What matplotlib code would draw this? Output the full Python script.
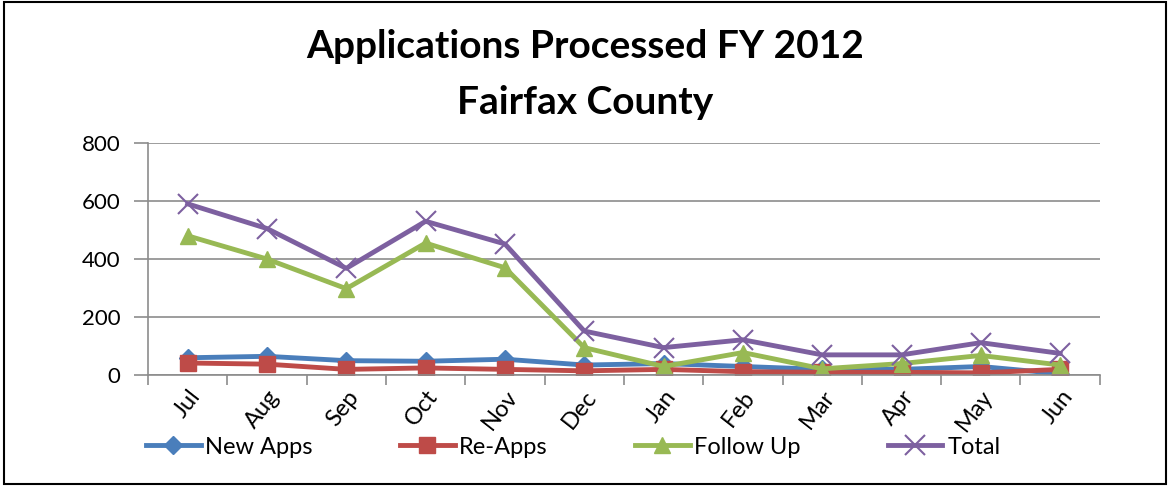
import numpy as np
import matplotlib
matplotlib.use("Agg")
import matplotlib.pyplot as plt
from matplotlib.patches import Rectangle

months = ["Jul", "Aug", "Sep", "Oct", "Nov", "Dec", "Jan", "Feb", "Mar", "Apr", "May", "Jun"]
new_apps = [60, 65, 50, 48, 55, 35, 40, 30, 20, 20, 30, 5]
re_apps = [42, 38, 20, 25, 20, 15, 20, 12, 10, 10, 8, 20]
follow_up = [480, 400, 298, 455, 370, 95, 30, 78, 22, 40, 68, 35]
total = [590, 505, 368, 530, 452, 152, 95, 122, 70, 70, 112, 75]

plt.rcParams['font.family'] = ['Lato', 'DejaVu Sans']

fig = plt.figure(figsize=(11.7, 4.86), dpi=100)
ax = fig.add_axes([0.1265, 0.228, 0.8135, 0.478])

x = np.arange(len(months))
lw = 3.5
ax.plot(x, new_apps, color="#4A7EBB", lw=lw, marker="D", ms=9, label="New Apps")
ax.plot(x, re_apps, color="#BE4B48", lw=lw, marker="s", ms=12, label="Re-Apps")
ax.plot(x, follow_up, color="#98B954", lw=lw, marker="^", ms=12, label="Follow Up")
ax.plot(x, total, color="#7D60A0", lw=lw, marker="x", ms=14, mew=1.5, label="Total")

ax.set_xlim(-0.5, len(months) - 0.5)
ax.set_ylim(0, 800)
ax.set_yticks([0, 200, 400, 600, 800])
ax.yaxis.grid(True, color="#8c8c8c", lw=1.2)
ax.set_axisbelow(True)
ax.set_xticks(x)
ax.set_xticklabels(months, rotation=52, ha="right", rotation_mode="anchor", fontsize=17)
ax.tick_params(axis="x", length=0, pad=8)
ax.set_xticks(np.arange(-0.5, len(months)), minor=True)
ax.tick_params(axis="x", which="minor", length=7, color="#8c8c8c", width=1.2)
ax.tick_params(axis="y", labelsize=16, length=10, pad=10, color="#8c8c8c", width=1.2)
for s in ["top", "right"]:
    ax.spines[s].set_visible(False)
for s in ["left", "bottom"]:
    ax.spines[s].set_color("#8c8c8c")
    ax.spines[s].set_linewidth(1.2)

fig.text(0.5, 0.905, "Applications Processed FY 2012", ha="center", va="center",
         fontsize=28, fontweight="bold")
fig.text(0.5, 0.79, "Fairfax County", ha="center", va="center",
         fontsize=28, fontweight="bold")

fig.legend(loc="center", bbox_to_anchor=(0.49, 0.08), ncol=4, frameon=False,
           fontsize=17, columnspacing=3.7, handlelength=2.3, handletextpad=0.2)

fig.patches.append(Rectangle((0.003, 0.004), 0.994, 0.992, transform=fig.transFigure,
                             fill=False, edgecolor="black", lw=1.5))

fig.savefig("out.png", dpi=100)
